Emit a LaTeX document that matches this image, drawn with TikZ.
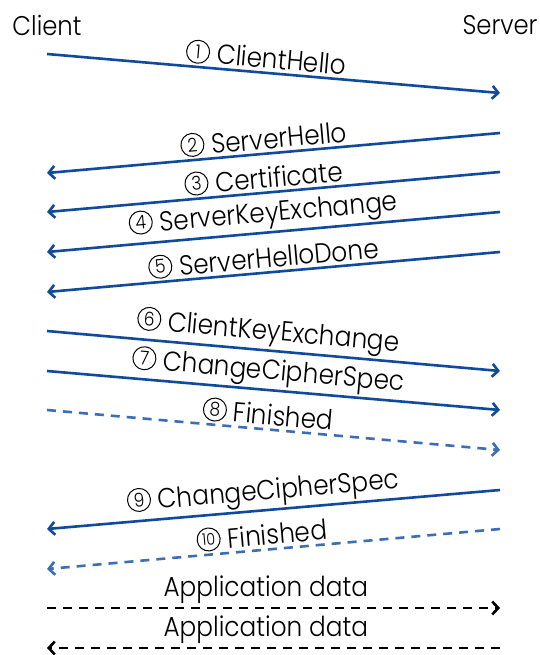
\documentclass[tikz,border=0pt]{standalone}
\usepackage{fontspec}
\setmainfont{Poppins Light}[FakeStretch=0.9]
\usetikzlibrary{arrows.meta}
\definecolor{tlsblue}{RGB}{16,74,156}
\definecolor{tlslight}{RGB}{60,110,180}
\tikzset{
  msg/.style={line width=2.6pt, draw=tlsblue, -{Straight Barb[length=6pt,width=13pt,line width=2.6pt]}},
  msgdash/.style={msg, draw=tlslight, dash pattern=on 9pt off 7pt},
  appdash/.style={msg, draw=black, dash pattern=on 9pt off 7pt},
  lbl/.style={font=\fontsize{27.5}{29}\selectfont, inner sep=0pt, text=black},
  party/.style={font=\fontsize{27}{29}\selectfont, inner sep=0pt, text=black},
  circ/.style={draw=black, circle, line width=1pt, minimum size=23pt, inner sep=0pt, font=\fontsize{19}{19}\selectfont}
}
\newcommand{\cn}[2]{\tikz[baseline={([yshift=1.5pt]#1.south)}]\node[circ] (#1) {#2};\kern 7pt}
\begin{document}
\begin{tikzpicture}[x=1pt,y=-1pt]
\useasboundingbox (0,0) rectangle (539,655);
\node[party] (client) at (47,25) {Client};
\node[party] (server) at (500,25) {Server};
% endpoints
\coordinate (a1) at (47,54);   \coordinate (b1) at (500,93);
\coordinate (a2) at (500,133); \coordinate (b2) at (47,173);
\coordinate (a3) at (500,172); \coordinate (b3) at (47,212);
\coordinate (a4) at (500,212); \coordinate (b4) at (47,252);
\coordinate (a5) at (500,252); \coordinate (b5) at (47,292);
\coordinate (a6) at (47,331);  \coordinate (b6) at (500,371);
\coordinate (a7) at (47,371);  \coordinate (b7) at (500,410);
\coordinate (a8) at (47,410);  \coordinate (b8) at (500,450);
\coordinate (a9) at (500,490); \coordinate (b9) at (47,529);
\coordinate (a10) at (500,529); \coordinate (b10) at (47,569);
\coordinate (a11) at (47,608); \coordinate (b11) at (500,608);
\coordinate (a12) at (500,648); \coordinate (b12) at (47,648);
\draw[msg] (a1) -- node[lbl, sloped, above=3pt, pos=0.481] (l1) {\cn{c1}{1}ClientHello} (b1);
\draw[msg] (a2) -- node[lbl, sloped, above=3pt, pos=0.519] (l2) {\cn{c2}{2}ServerHello} (b2);
\draw[msg] (a3) -- node[lbl, sloped, above=3pt, pos=0.519] (l3) {\cn{c3}{3}Certificate} (b3);
\draw[msg] (a4) -- node[lbl, sloped, above=3pt, pos=0.519] (l4) {\cn{c4}{4}ServerKeyExchange} (b4);
\draw[msg] (a5) -- node[lbl, sloped, above=3pt, pos=0.519] (l5) {\cn{c5}{5}ServerHelloDone} (b5);
\draw[msg] (a6) -- node[lbl, sloped, above=3pt, pos=0.485] (l6) {\cn{c6}{6}ClientKeyExchange} (b6);
\draw[msg] (a7) -- node[lbl, sloped, above=3pt, pos=0.485] (l7) {\cn{c7}{7}ChangeCipherSpec} (b7);
\draw[msgdash] (a8) -- node[lbl, sloped, above=3pt, pos=0.485] (l8) {\cn{c8}{8}Finished} (b8);
\draw[msg] (a9) -- node[lbl, sloped, above=3pt, pos=0.519] (l9) {\cn{c9}{9}ChangeCipherSpec} (b9);
\draw[msgdash] (a10) -- node[lbl, sloped, above=3pt, pos=0.523] (l10) {\cn{c10}{\fontsize{16}{16}\selectfont 10}Finished} (b10);
\draw[appdash] (a11) -- node[lbl, above=3pt, pos=0.483] (l11) {Application data} (b11);
\draw[appdash] (a12) -- node[lbl, above=3pt, pos=0.517] (l12) {Application data} (b12);
\end{tikzpicture}
\end{document}
